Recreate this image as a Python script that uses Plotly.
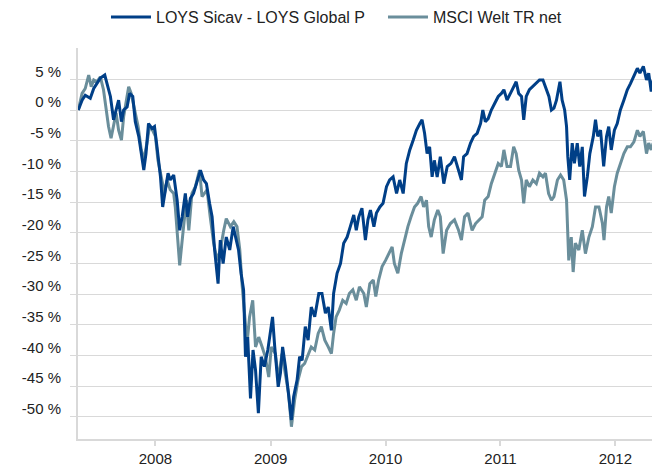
import pandas as pd
import plotly.graph_objects as go

# ---- data ----
start_date = "2007-05-01"

loys_days = [0,12,22,38,49,59,70,84,91,102,
             112,120,128,137,144,155,163,173,181,192,
             202,208,215,223,234,242,250,261,268,276,
             285,292,303,314,322,330,340,347,356,366,
             375,388,398,407,417,425,433,444,451,460,
             470,481,492,502,509,517,525,531,538,547,
             555,563,572,581,591,602,613,617,624,635,
             642,649,658,666,677,684,695,703,711,721,
             730,740,751,764,774,785,794,804,811,822,
             833,843,854,864,875,883,891,901,912,920,
             928,939,947,958,968,979,989,1000,1011,1021,
             1032,1042,1053,1064,1074,1085,1092,1100,1108,1116,
             1124,1131,1140,1150,1161,1172,1184,1195,1205,1217,
             1224,1235,1246,1256,1267,1278,1285,1293,1302,1312,
             1323,1334,1344,1352,1362,1373,1383,1391,1399,1408,
             1415,1423,1433,1444,1455,1465,1476,1484,1495,1503,
             1511,1519,1530,1537,1545,1551,1555,1561,1569,1576,
             1585,1593,1601,1608,1617,1625,1636,1643,1650,1659,
             1669,1678,1685,1693,1703,1712,1722,1733,1744,1754,
             1765,1776,1784,1795,1805,1812,1820,1826]

loys_pct = [0.0,1.6,2.4,1.9,3.5,4.3,5.2,5.7,4.3,2.2,
            -1.6,0.0,1.6,-1.9,0.0,0.5,2.7,2.2,-1.9,-4.3,
            -8.2,-9.8,-7.1,-2.2,-3.0,-2.7,-6.0,-10.9,-15.8,-13.0,
            -10.3,-11.4,-10.6,-14.7,-19.6,-17.4,-13.6,-17.4,-14.4,-13.6,
            -12.0,-9.8,-11.4,-12.0,-15.2,-17.4,-22.8,-28.3,-21.2,-25.0,
            -20.7,-22.8,-19.0,-21.2,-22.8,-26.6,-29.3,-40.2,-37.0,-47.0,
            -39.1,-42.4,-49.4,-40.2,-41.8,-39.1,-35.3,-33.7,-38.6,-45.1,
            -42.9,-38.6,-41.8,-45.1,-50.5,-46.7,-44.0,-40.2,-40.8,-35.3,
            -37.5,-32.1,-33.7,-29.9,-29.9,-33.1,-32.1,-35.9,-29.9,-26.6,
            -25.0,-21.7,-20.7,-19.0,-17.1,-19.6,-17.4,-16.0,-21.2,-17.9,
            -16.3,-19.0,-16.8,-15.8,-15.2,-12.5,-11.4,-10.9,-13.6,-11.4,
            -13.6,-8.7,-6.5,-4.9,-3.3,-2.2,-1.6,-3.8,-7.1,-6.0,
            -10.9,-8.2,-10.9,-7.6,-12.0,-9.2,-8.7,-7.6,-9.2,-11.4,
            -7.6,-7.1,-5.4,-4.3,-3.8,-2.2,0.0,-1.9,-1.4,0.0,
            1.1,2.2,2.7,3.3,1.6,2.7,3.8,4.6,2.7,2.2,
            -1.6,2.2,3.3,3.8,4.3,4.9,4.9,3.8,2.2,0.0,
            0.3,1.6,4.6,1.6,0.0,-2.7,-7.6,-11.4,-5.4,-8.7,
            -5.4,-9.2,-6.0,-14.1,-10.9,-7.1,-4.3,-1.6,-4.3,-3.3,
            -9.2,-4.3,-2.7,-6.5,-3.3,-2.2,0.0,1.6,3.3,4.3,
            5.7,6.8,6.0,7.1,4.9,6.0,3.0,4.9]

msci_days = [0,12,22,33,41,49,59,70,80,88,
             96,104,112,120,128,137,144,152,160,168,
             179,190,200,208,218,226,236,245,253,261,
             268,274,282,292,303,308,316,322,331,343,
             351,361,372,385,393,409,419,430,441,451,
             462,470,483,494,504,513,520,528,536,544,
             554,563,573,584,594,605,613,626,636,647,
             658,668,677,687,698,709,719,730,740,751,
             762,772,783,794,804,811,819,829,840,851,
             861,872,883,893,907,915,926,937,945,954,
             965,976,986,997,1004,1015,1026,1036,1047,1057,
             1068,1078,1089,1097,1106,1113,1121,1131,1142,1150,
             1159,1170,1182,1195,1208,1217,1227,1238,1251,1262,
             1272,1283,1291,1302,1312,1323,1334,1344,1352,1362,
             1373,1383,1391,1399,1408,1415,1423,1433,1444,1455,
             1465,1476,1484,1494,1503,1511,1522,1532,1542,1551,
             1555,1558,1566,1572,1579,1590,1601,1611,1622,1633,
             1643,1654,1665,1670,1678,1685,1693,1703,1712,1722,
             1733,1744,1754,1765,1776,1784,1795,1805,1812,1820,
             1826]

msci_pct = [0.0,2.7,3.5,5.7,3.8,4.9,4.6,5.4,3.3,0.5,
            -2.7,-4.6,-2.7,-0.5,-3.3,-4.9,-1.1,1.1,3.8,2.7,
            0.0,-2.7,-6.5,-8.2,-5.4,-2.7,-3.3,-4.3,-8.2,-10.3,
            -12.5,-13.6,-11.4,-13.0,-13.6,-15.8,-21.2,-25.3,-20.7,-14.7,
            -19.6,-13.6,-12.5,-9.8,-14.1,-13.0,-17.4,-21.7,-24.5,-22.8,
            -19.6,-17.7,-19.0,-18.2,-19.0,-22.8,-28.3,-33.7,-38.0,-33.7,
            -31.0,-38.6,-37.0,-38.6,-40.2,-43.5,-38.6,-39.7,-44.0,-39.7,
            -42.9,-46.2,-51.6,-47.3,-44.0,-41.8,-41.3,-39.7,-38.6,-39.1,
            -36.4,-35.3,-37.5,-38.6,-39.7,-36.4,-33.7,-32.6,-31.0,-31.5,
            -29.9,-29.3,-31.0,-28.8,-29.9,-32.1,-28.3,-27.7,-30.4,-27.7,
            -25.5,-24.5,-23.4,-22.3,-25.0,-26.6,-23.4,-21.2,-19.0,-17.4,
            -15.8,-15.2,-14.1,-15.8,-14.7,-19.0,-20.7,-17.9,-16.3,-17.4,
            -23.4,-19.6,-18.5,-17.9,-19.6,-21.2,-17.4,-16.8,-19.6,-18.5,
            -17.9,-17.4,-14.7,-14.1,-12.0,-10.3,-8.7,-9.2,-6.5,-9.2,
            -9.2,-6.0,-7.1,-9.8,-11.4,-15.2,-11.4,-12.5,-11.4,-12.0,
            -10.3,-10.9,-10.3,-13.6,-14.7,-14.1,-11.4,-10.6,-11.4,-14.7,
            -20.7,-24.5,-20.7,-26.4,-21.7,-22.8,-19.6,-23.4,-20.7,-19.0,
            -15.8,-15.8,-18.5,-21.2,-15.8,-14.1,-16.8,-12.5,-10.3,-8.7,
            -7.1,-6.0,-6.0,-5.2,-3.3,-4.3,-3.5,-7.1,-5.4,-6.5,
            -5.4]

x_tick_dates = ["2008-01-01", "2009-01-01", "2010-01-01", "2011-01-01", "2012-01-01"]
x_tick_labels = ["2008", "2009", "2010", "2011", "2012"]
y_tick_vals = [-50, -45, -40, -35, -30, -25, -20, -15, -10, -5, 0, 5]
y_tick_labels = ["-50 %", "-45 %", "-40 %", "-35 %", "-30 %", "-25 %", "-20 %",
                 "-15 %", "-10 %", "-5 %", "0 %", "5 %"]

series_names = ["LOYS Sicav - LOYS Global P", "MSCI Welt TR net"]

# ---- build ----
t0 = pd.Timestamp(start_date)
loys_dates = [t0 + pd.Timedelta(days=d) for d in loys_days]
msci_dates = [t0 + pd.Timedelta(days=d) for d in msci_days]

BLUE = "#003f87"
TEAL = "#6a8e9b"
GRID = "#d9d9d9"

fig = go.Figure()
fig.add_trace(go.Scatter(x=msci_dates, y=msci_pct, mode="lines", name=series_names[1],
                         line=dict(color=TEAL, width=3), legendrank=2))
fig.add_trace(go.Scatter(x=loys_dates, y=loys_pct, mode="lines", name=series_names[0],
                         line=dict(color=BLUE, width=3), legendrank=1))

# the page body adds an 8 px offset, so the figure is 8 px smaller than the window
FIG_W, FIG_H = 652, 458
fig.update_layout(
    width=FIG_W, height=FIG_H,
    margin=dict(l=70, r=5, t=40, b=27, autoexpand=False),
    paper_bgcolor="white", plot_bgcolor="white",
    font=dict(family="Liberation Sans, Arial, sans-serif", size=15, color="#222222"),
    legend=dict(orientation="h", xref="paper", yref="paper",
                x=0.0485, xanchor="left", y=1.079, yanchor="middle",
                entrywidth=222, entrywidthmode="pixels",
                font=dict(size=16), itemwidth=40, bgcolor="rgba(0,0,0,0)"),
    showlegend=True,
)
fig.update_xaxes(
    type="date",
    range=[t0 - pd.Timedelta(days=1), t0 + pd.Timedelta(days=1832)],
    tickvals=x_tick_dates, ticktext=x_tick_labels,
    ticks="outside", ticklen=5, tickwidth=2, tickcolor=GRID,
    showline=True, linecolor=GRID, linewidth=2,
    showgrid=False, zeroline=False, automargin=False,
)
fig.update_yaxes(
    range=[-53.6, 10.1],
    tickvals=y_tick_vals, ticktext=y_tick_labels,
    ticks="outside", ticklen=6, tickwidth=1, tickcolor=GRID,
    showline=True, linecolor=GRID, linewidth=2,
    showgrid=True, gridcolor=GRID, gridwidth=1,
    zeroline=False, automargin=False,
    ticklabelshift=-8, ticklabelstandoff=6,
)

fig.write_html("out.html")
